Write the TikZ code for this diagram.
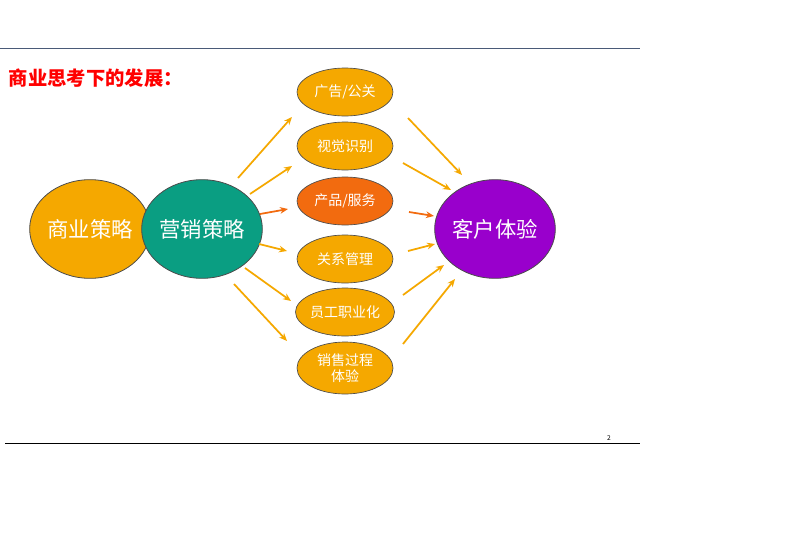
\documentclass[tikz,border=0pt]{standalone}
\usepackage{fontspec}
\setmainfont{Noto Sans CJK SC}
\usetikzlibrary{arrows.meta}
\definecolor{orng}{HTML}{F5A800}
\definecolor{dorng}{HTML}{F26B0F}
\definecolor{teal2}{HTML}{0A9E82}
\definecolor{purp}{HTML}{9900CC}
\definecolor{linec}{HTML}{4A5A78}
\tikzset{
 big/.style={ellipse,draw=black!70,line width=0.6pt,minimum width=79pt,minimum height=74pt,inner sep=0pt,text=white,font=\fontsize{16pt}{18pt}\selectfont},
 sm/.style={ellipse,draw=black!70,line width=0.5pt,fill=orng,minimum width=72pt,minimum height=36pt,inner sep=0pt,text=white,font=\fontsize{10.5pt}{12pt}\selectfont,align=center},
 arr/.style={-{Stealth[length=6pt,width=5pt]},line width=1.3pt,draw=orng},
 darr/.style={arr,draw=dorng},
}
\usetikzlibrary{shapes.geometric}
\begin{document}
\begin{tikzpicture}[x=0.75pt,y=-0.75pt]
\useasboundingbox (0,0) rectangle (800,554);
\fill[white] (0,0) rectangle (800,554);
\coordinate (l1) at (0,48); \coordinate (l2) at (640,48);
\draw[linec,line width=0.6pt] (l1)--(l2);
\coordinate (b1) at (5,443); \coordinate (b2) at (640,443);
\draw[black,line width=0.6pt] (b1)--(b2);
\node[font=\fontsize{5pt}{6pt}\selectfont] (pg) at (609,438) {2};
\node[anchor=west,text=red,font=\fontsize{14.5pt}{16pt}\selectfont\bfseries] (title) at (4,78) {商业思考下的发展：};
\node[big,fill=orng] (a) at (90,229) {商业策略};
\node[big,fill=teal2] (b) at (202,229) {营销策略};
\node[big,fill=purp,minimum width=80pt] (c) at (495,229) {客户体验};
\node[sm] (s1) at (345,92) {广告/公关};
\node[sm] (s2) at (345,146) {视觉识别};
\node[sm,fill=dorng] (s3) at (345,201) {产品/服务};
\node[sm] (s4) at (345,259) {关系管理};
\node[sm] (s5) at (345,312) {员工职业化};
\node[sm,minimum height=39pt] (s6) at (345,368) {\fontsize{10.5pt}{13pt}\selectfont 销售过程\\体验};
\foreach \n/\xa/\ya/\xb/\yb/\st in {1/238/178/292/117/arr,2/250/194/292/166/arr,3/260/214/288/209/darr,4/259/244/287/251/arr,5/245/268/291/301/arr,6/234/284/287/341/arr}{
 \coordinate (p\n) at (\xa,\ya); \coordinate (q\n) at (\xb,\yb);
 \draw[\st] (p\n)--(q\n);}
\foreach \n/\xa/\ya/\xb/\yb/\st in {1/408/118/462/175/arr,2/403/163/451/190/arr,3/409/212/434/216/darr,4/408/251/435/244/arr,5/403/295/444/265/arr,6/403/344/455/279/arr}{
 \coordinate (r\n) at (\xa,\ya); \coordinate (t\n) at (\xb,\yb);
 \draw[\st] (r\n)--(t\n);}
\end{tikzpicture}
\end{document}
